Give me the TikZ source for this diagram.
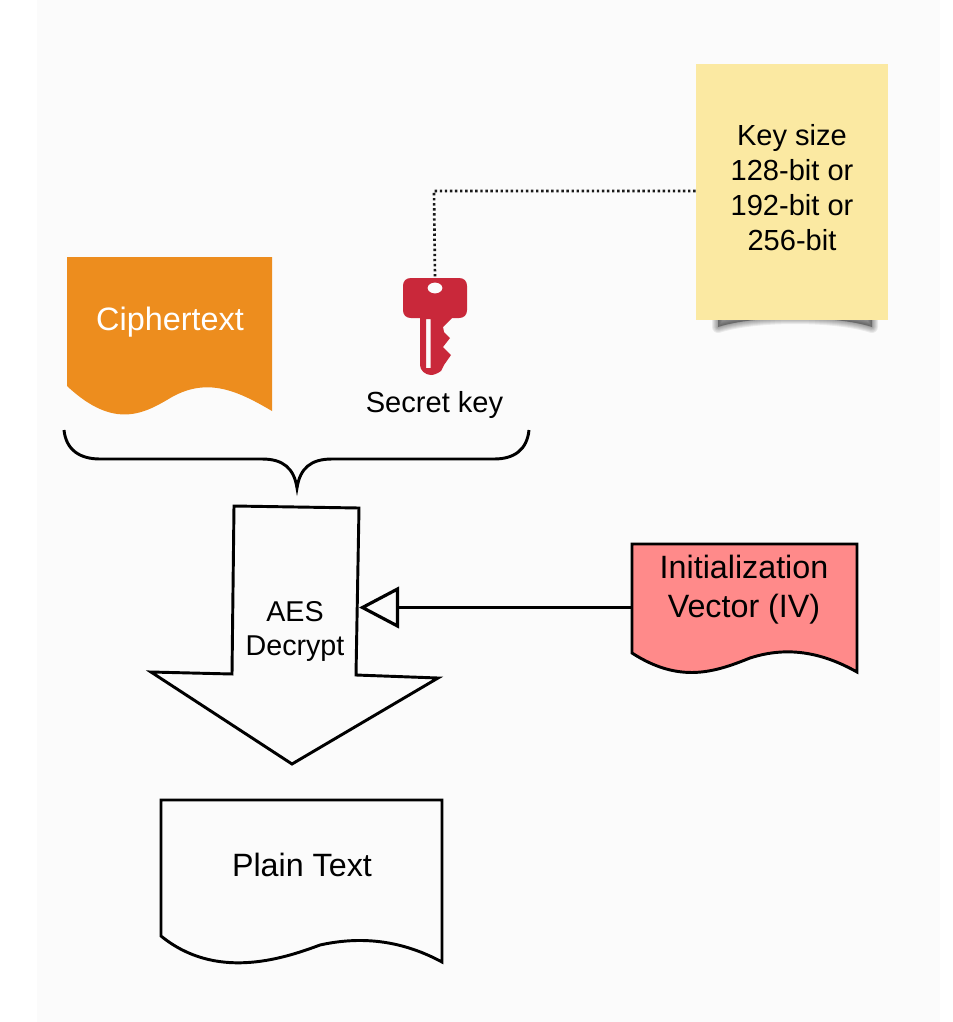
\documentclass[tikz,border=0pt]{standalone}
\usepackage{fontspec}
\setmainfont{Liberation Sans}
\usetikzlibrary{arrows.meta}
\definecolor{paper}{HTML}{FBFBFB}
\definecolor{notey}{HTML}{FBE9A2}
\definecolor{cipher}{HTML}{ED8D1E}
\definecolor{keyred}{HTML}{C9283A}
\definecolor{ivred}{HTML}{FF8A8A}
\tikzset{
  lbl/.style={inner sep=0pt,align=center,text=black},
  shapeline/.style={draw=black,line width=2.2pt,line join=miter},
  dots/.style={line width=2pt,dash pattern=on 1.8pt off 2pt,black!90}
}
\begin{document}
\begin{tikzpicture}[x=0.75pt,y=-0.75pt]
\useasboundingbox (0,0) rectangle (953,1022);
\fill[white] (0,0) rectangle (953,1022);
\fill[paper] (37,0) rectangle (940,1022);
% note shadow
\foreach \w in {12,10,8,6,4,2}{
  \fill[black,opacity=0.065,draw=black,draw opacity=0.065,line width=\w*0.75pt,line join=round]
    (718,316) -- (872,316) -- (872,327) .. controls (835,315) and (755,315) .. (718,327) -- cycle;
}
\node[minimum width=144pt,minimum height=192pt,inner sep=0pt,fill=notey,anchor=north west] (note) at (695.5,63.5) {};
\node[lbl,font=\fontsize{21.8}{26.3}\selectfont] (notetext) at (792,188) {Key size\\128-bit or\\192-bit or\\256-bit};
% ciphertext
\fill[cipher] (67,257) -- (272,257) -- (272,411) .. controls (238,391) and (208,377) .. (172,397) .. controls (145,413) and (115,431) .. (67,386) -- cycle;
\node[lbl,text=white,font=\fontsize{24.3}{28}\selectfont] (cipher) at (170,322) {Ciphertext};
% key
\path[fill=keyred,even odd rule]
  (411,278) -- (459,278) .. controls (464,278) and (467,281) .. (467,286) -- (467,310)
  .. controls (467,315) and (464,318) .. (459,318) -- (452,318)
  -- (443,327) -- (444,332) -- (450,338) -- (443,347) -- (451,355) -- (444,365) -- (441,371)
  .. controls (437,374) and (433,375) .. (431,375) .. controls (425,375) and (420,370) .. (420,365)
  -- (420,318) -- (411,318) .. controls (406,318) and (403,315) .. (403,310) -- (403,286)
  .. controls (403,281) and (406,278) .. (411,278) -- cycle
  (435,288) ellipse [x radius=7.5,y radius=5.5]
  (426,319) rectangle (430.5,368);
\coordinate (keytop) at (435,278);
\node[lbl,font=\fontsize{21.8}{26}\selectfont] (secret) at (434.5,405) {Secret key};
\draw[dots] (note.west |- 0,191) coordinate (noteport) -- (434,191) coordinate (corner) -- (keytop);
% brace
\node[inner sep=0pt] (bracetip) at (297,488) {};
\draw[black,line width=2.2pt]
  (64,430) .. controls (66,450) and (80,459) .. (100,459) -- (262,459)
  .. controls (283,459) and (294,468) .. (bracetip.center)
  .. controls (300,468) and (311,459) .. (332,459) -- (494,459)
  .. controls (514,459) and (527,450) .. (529,430);
% AES arrow
\draw[shapeline,fill=paper] (234,506) -- (359,508) -- (356,675) -- (438,678) -- (292,764) -- (151,672) -- (232,674) -- cycle;
\node[lbl,font=\fontsize{21.5}{25.5}\selectfont] (aes) at (295,631) {AES\\Decrypt};
% IV
\draw[black,line width=2.2pt,fill=ivred] (632,544) -- (857,544) -- (857,672) .. controls (825,654) and (790,645) .. (750,658) .. controls (715,672) and (680,684) .. (632,653) -- cycle;
\node[lbl,font=\fontsize{24.2}{29.3}\selectfont] (iv) at (744,590) {Initialization\\Vector (IV)};
% connector
\coordinate (ivport) at (632,607.5);
\coordinate (aesport) at (359,607.5);
\draw[black,line width=2.2pt,-{Triangle[open,length=30pt,width=31pt,line width=2.4pt]}] (ivport) -- (aesport);
% plain text
\draw[shapeline,fill=paper] (161,800) -- (442,800) -- (442,962) .. controls (405,942) and (365,935) .. (320,945) .. controls (280,960) and (215,980) .. (161,936) -- cycle;
\node[lbl,font=\fontsize{24.2}{28}\selectfont] (plain) at (302,865) {Plain Text};
\end{tikzpicture}
\end{document}
